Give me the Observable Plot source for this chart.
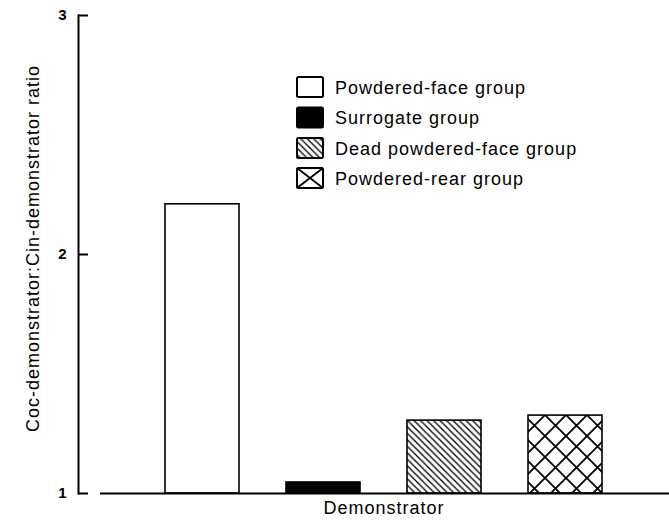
<!DOCTYPE html>
<html><head><meta charset="utf-8">
<script src="https://cdn.jsdelivr.net/npm/d3@7"></script>
<script src="https://cdn.jsdelivr.net/npm/@observablehq/plot@0.6"></script>
<style>
body{margin:0;background:#fff;}
#chart{position:relative;width:669px;height:525px;}
</style></head><body><div id="chart"></div>
<script>
const groups = ["Powdered-face group", "Surrogate group", "Dead powdered-face group", "Powdered-rear group"];
const ratios = [2.21, 1.046, 1.305, 1.326];
const fills = ["white", "black", "url(#diag)", "url(#cross)"];
const yTicks = [1, 2, 3];
const yLabel = "Coc-demonstrator:Cin-demonstrator ratio";
const xLabel = "Demonstrator";
const baseline = 1;

const data = groups.map((g, i) => ({group: g, ratio: ratios[i]}));
const font = "'Liberation Sans', Arial, Helvetica, sans-serif";

const plot = Plot.plot({
  width: 669, height: 525,
  marginLeft: 78, marginRight: 0, marginTop: 15, marginBottom: 32,
  style: {fontFamily: font, background: "white", color: "black", letterSpacing: "1px"},
  x: {type: "band", domain: groups, range: [100, 667], paddingInner: 0.388, paddingOuter: 0.526, axis: null},
  y: {domain: [1, 3], axis: null},
  color: {type: "ordinal", domain: groups, range: fills},
  marks: [
    Plot.barY(data, {x: "group", y1: baseline, y2: "ratio", fill: "group", stroke: "black", strokeWidth: 1.6}),
    Plot.ruleY([baseline], {insetLeft: 22, strokeWidth: 2}),
    Plot.frame({anchor: "left", strokeWidth: 2}),
    // inward ticks
    Plot.axisY(yTicks, {tickSize: 10, dx: 10, strokeWidth: 2, tickFormat: () => "", label: null}),
    // tick labels
    Plot.axisY(yTicks, {tickSize: 0, tickPadding: 11, fontSize: 15, fontWeight: "bold", tickFormat: d3.format("d"), label: null}),
    Plot.text([yLabel], {frameAnchor: "left", textAnchor: "middle", rotate: -90, dx: -45, dy: -6, fontSize: 18}),
    Plot.text([xLabel], {frameAnchor: "bottom", dx: 10, dy: 20, fontSize: 18})
  ]
});
document.getElementById("chart").appendChild(plot);

const svg = d3.select(plot);
svg.insert("defs", ":first-child").html(`
  <pattern id="diag" patternUnits="userSpaceOnUse" width="6.5" height="6.5">
    <rect width="6.5" height="6.5" fill="white"/>
    <path d="M-1,-1L7.5,7.5M-1,5.5L1,7.5M5.5,-1L7.5,1" stroke="black" stroke-width="1.3"/>
  </pattern>
  <pattern id="cross" patternUnits="userSpaceOnUse" width="21" height="21" patternTransform="translate(20,16)">
    <rect width="21" height="21" fill="white"/>
    <path d="M-2,-2L23,23M23,-2L-2,23" stroke="black" stroke-width="1.8"/>
  </pattern>`);

// legend
const legend = svg.append("g").attr("font-family", font).attr("font-size", 18)
  .attr("text-anchor", "start").style("letter-spacing", "1px");
const rowY = [87, 117.5, 148, 178];
groups.forEach((g, i) => {
  const row = legend.append("g").attr("transform", `translate(297,${rowY[i]})`);
  row.append("rect").attr("x", 0).attr("y", -10).attr("width", 26).attr("height", 20).attr("rx", 1.5)
    .attr("fill", i === 3 ? "white" : fills[i]).attr("stroke", "black").attr("stroke-width", 2);
  if (i === 3) {
    row.append("path").attr("d", "M0,-10L26,10M26,-10L0,10").attr("stroke", "black").attr("stroke-width", 1.8);
  }
  row.append("text").attr("x", 38).attr("y", 6.5).attr("fill", "black").attr("text-anchor", "start").text(g);
});
</script></body></html>
